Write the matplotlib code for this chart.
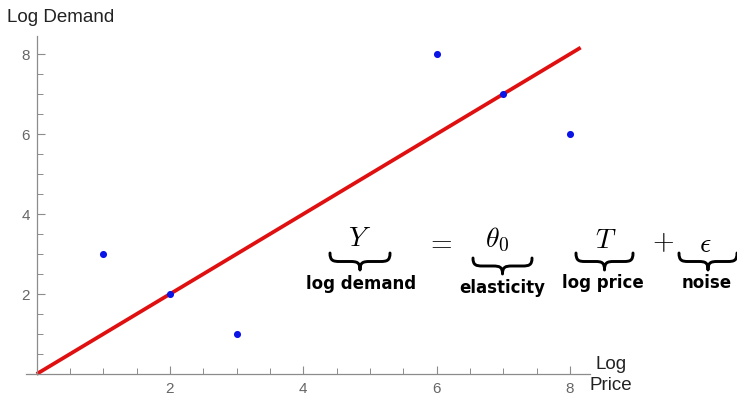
import numpy as np
import matplotlib
matplotlib.use("Agg")
import matplotlib.pyplot as plt
from matplotlib.path import Path
from matplotlib.patches import PathPatch
from matplotlib.ticker import MultipleLocator

# data
log_price = [1, 2, 3, 6, 7, 8]
log_demand = [3, 2, 1, 8, 7, 6]
fit_x = [0, 8.16]
fit_slope = 1.0
x_ticks = [2, 4, 6, 8]
y_ticks = [2, 4, 6, 8]

# equation pieces: (symbol, label)
eq_terms = [r"$Y$", r"$\theta_0$", r"$T$", r"$\epsilon$"]
eq_labels = ["log demand", "elasticity", "log price", "noise"]
eq_ops = [r"$=$", r"$+$"]

W, H = 737, 397
fig = plt.figure(figsize=(W / 100, H / 100), dpi=100)

# axes placed in pixels: x from -0.16..8.3, y from 0..8.45
x_lo, x_hi = -0.16, 8.3
y_lo, y_hi = 0.0, 8.45
px_x0, px_x1 = 26, 590
px_y_top = 36
px_y_bot = 374
ax = fig.add_axes([px_x0 / W, 1 - px_y_bot / H, (px_x1 - px_x0) / W, (px_y_bot - px_y_top) / H])
ax.set_xlim(x_lo, x_hi)
ax.set_ylim(y_lo, y_hi)

ax.plot(fit_x, [v * fit_slope for v in fit_x], color="#e01010", lw=2.7, solid_capstyle="butt", zorder=2,
        clip_on=False)
ax.scatter(log_price, log_demand, s=26, color="#0a14e6", zorder=3, linewidths=0, clip_on=False)

for side in ["top", "right"]:
    ax.spines[side].set_visible(False)
ax.spines["left"].set_position(("data", 0))
ax.spines["bottom"].set_position(("data", 0))
for side in ["left", "bottom"]:
    ax.spines[side].set_color("#8c8c8c")
    ax.spines[side].set_linewidth(0.9)

ax.set_xticks(x_ticks)
ax.set_yticks(y_ticks)
ax.xaxis.set_minor_locator(MultipleLocator(0.5))
ax.yaxis.set_minor_locator(MultipleLocator(0.5))
ax.tick_params(which="major", direction="in", length=6, width=0.8, color="#8c8c8c",
               labelsize=11, labelcolor="#666666")
ax.tick_params(which="minor", direction="in", length=4, width=0.7, color="#8c8c8c")
ax.tick_params(axis="x", which="major", pad=6)
ax.tick_params(axis="y", which="major", pad=5)
for lab in ax.get_xticklabels() + ax.get_yticklabels():
    lab.set_family("Liberation Sans")

fig.text(7 / W, 1 - 17 / H, "Log Demand", fontsize=13.5, color="#222222", va="center", ha="left",
         family="Liberation Sans")
fig.text(611 / W, 1 - 375 / H, "Log\nPrice", fontsize=13.5, color="#222222", va="center",
         ha="center", linespacing=1.3, family="Liberation Sans")


def fx(x):
    return x / W


def fy(y):
    return 1 - y / H


def brace(x0, x1, ytop, ybot, lw=2.1):
    xc = (x0 + x1) / 2
    ymid = (ytop + ybot) / 2
    r = (x1 - x0) * 0.16
    pts = [
        (x0, ytop),
        (x0, ymid - 1), (x0 + r * 0.3, ymid), (x0 + r, ymid),
        (xc - r, ymid),
        (xc - r * 0.3, ymid), (xc, ymid + 1), (xc, ybot),
        (xc, ymid + 1), (xc + r * 0.3, ymid), (xc + r, ymid),
        (x1 - r, ymid),
        (x1 - r * 0.3, ymid), (x1, ymid - 1), (x1, ytop),
    ]
    codes = [Path.MOVETO,
             Path.CURVE4, Path.CURVE4, Path.CURVE4,
             Path.LINETO,
             Path.CURVE4, Path.CURVE4, Path.CURVE4,
             Path.CURVE4, Path.CURVE4, Path.CURVE4,
             Path.LINETO,
             Path.CURVE4, Path.CURVE4, Path.CURVE4]
    path = Path([(fx(a), fy(b)) for a, b in pts], codes)
    fig.add_artist(PathPatch(path, transform=fig.transFigure, fill=False, lw=lw,
                             edgecolor="black", capstyle="round", joinstyle="round"))


# positions in pixels: symbol center, brace span, label center
sym_pos = [(360, 238), (497, 240), (606, 240), (705, 244)]
brace_pos = [(330, 390, 253, 270), (473, 532, 258, 274), (576, 633, 253, 270), (679, 737, 253, 270)]
label_pos = [(361, 284), (502, 288), (603, 283), (707, 283)]
op_pos = [(439, 242), (663, 242)]

for s, (x, y) in zip(eq_terms, sym_pos):
    fig.text(fx(x), fy(y), s, fontsize=20, math_fontfamily="cm", ha="center", va="center")
for (x0, x1, yt, yb) in brace_pos:
    brace(x0, x1, yt, yb)
for s, (x, y) in zip(eq_labels, label_pos):
    fig.text(fx(x), fy(y), s, fontsize=12, fontweight="bold", ha="center", va="center")
for s, (x, y) in zip(eq_ops, op_pos):
    fig.text(fx(x), fy(y), s, fontsize=20, math_fontfamily="cm", ha="center", va="center")

fig.savefig("out.png", dpi=100)
